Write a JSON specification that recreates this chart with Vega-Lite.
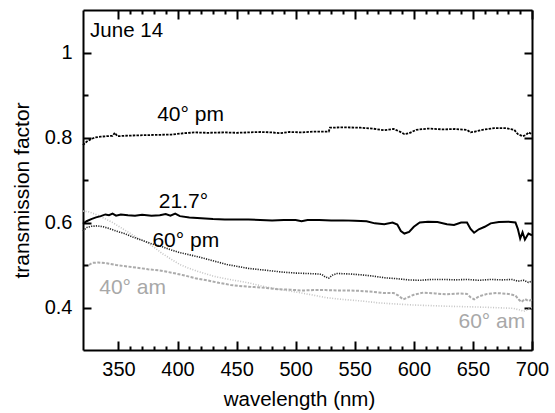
{
  "$schema": "https://vega.github.io/schema/vega-lite/v6.json",
  "width": 449,
  "height": 340,
  "autosize": {"type": "none"},
  "padding": {"left": 83, "top": 10, "right": 23, "bottom": 63},
  "config": {"view": {"stroke": null}, "axis": {"grid": false}},
  "datasets": {
    "spectra": [
      {"s": "60am", "w": 320, "t": 0.627}, {"s": "60am", "w": 325, "t": 0.625}, {"s": "60am", "w": 330, "t": 0.620}, {"s": "60am", "w": 335, "t": 0.614}, {"s": "60am", "w": 340, "t": 0.607}, {"s": "60am", "w": 345, "t": 0.600}, {"s": "60am", "w": 352, "t": 0.588}, {"s": "60am", "w": 359, "t": 0.576}, {"s": "60am", "w": 366, "t": 0.564}, {"s": "60am", "w": 374, "t": 0.553}, {"s": "60am", "w": 381, "t": 0.540}, {"s": "60am", "w": 387, "t": 0.527}, {"s": "60am", "w": 395, "t": 0.513}, {"s": "60am", "w": 402, "t": 0.501}, {"s": "60am", "w": 409, "t": 0.493}, {"s": "60am", "w": 416, "t": 0.486}, {"s": "60am", "w": 423, "t": 0.480}, {"s": "60am", "w": 430, "t": 0.474}, {"s": "60am", "w": 440, "t": 0.468}, {"s": "60am", "w": 450, "t": 0.463}, {"s": "60am", "w": 460, "t": 0.458}, {"s": "60am", "w": 472, "t": 0.450}, {"s": "60am", "w": 486, "t": 0.443}, {"s": "60am", "w": 501, "t": 0.436}, {"s": "60am", "w": 513, "t": 0.430}, {"s": "60am", "w": 526, "t": 0.423}, {"s": "60am", "w": 540, "t": 0.419}, {"s": "60am", "w": 557, "t": 0.415}, {"s": "60am", "w": 570, "t": 0.411}, {"s": "60am", "w": 580, "t": 0.409}, {"s": "60am", "w": 599, "t": 0.406}, {"s": "60am", "w": 628, "t": 0.403}, {"s": "60am", "w": 656, "t": 0.401}, {"s": "60am", "w": 675, "t": 0.399}, {"s": "60am", "w": 684, "t": 0.398}, {"s": "60am", "w": 690, "t": 0.394}, {"s": "60am", "w": 693, "t": 0.391}, {"s": "60am", "w": 697, "t": 0.396}, {"s": "60am", "w": 700, "t": 0.400},

      {"s": "40am", "w": 325, "t": 0.500}, {"s": "40am", "w": 328, "t": 0.505}, {"s": "40am", "w": 333, "t": 0.506}, {"s": "40am", "w": 340, "t": 0.504}, {"s": "40am", "w": 348, "t": 0.500}, {"s": "40am", "w": 356, "t": 0.497}, {"s": "40am", "w": 365, "t": 0.494}, {"s": "40am", "w": 375, "t": 0.490}, {"s": "40am", "w": 385, "t": 0.487}, {"s": "40am", "w": 395, "t": 0.482}, {"s": "40am", "w": 405, "t": 0.476}, {"s": "40am", "w": 415, "t": 0.469}, {"s": "40am", "w": 425, "t": 0.464}, {"s": "40am", "w": 435, "t": 0.458}, {"s": "40am", "w": 445, "t": 0.453}, {"s": "40am", "w": 455, "t": 0.450}, {"s": "40am", "w": 465, "t": 0.448}, {"s": "40am", "w": 475, "t": 0.446}, {"s": "40am", "w": 485, "t": 0.443}, {"s": "40am", "w": 495, "t": 0.442}, {"s": "40am", "w": 505, "t": 0.440}, {"s": "40am", "w": 515, "t": 0.441}, {"s": "40am", "w": 525, "t": 0.441}, {"s": "40am", "w": 535, "t": 0.440}, {"s": "40am", "w": 545, "t": 0.440}, {"s": "40am", "w": 555, "t": 0.439}, {"s": "40am", "w": 565, "t": 0.437}, {"s": "40am", "w": 575, "t": 0.434}, {"s": "40am", "w": 583, "t": 0.434}, {"s": "40am", "w": 587, "t": 0.428}, {"s": "40am", "w": 591, "t": 0.419}, {"s": "40am", "w": 595, "t": 0.424}, {"s": "40am", "w": 600, "t": 0.430}, {"s": "40am", "w": 608, "t": 0.435}, {"s": "40am", "w": 618, "t": 0.433}, {"s": "40am", "w": 628, "t": 0.431}, {"s": "40am", "w": 638, "t": 0.433}, {"s": "40am", "w": 645, "t": 0.432}, {"s": "40am", "w": 648, "t": 0.424}, {"s": "40am", "w": 651, "t": 0.419}, {"s": "40am", "w": 655, "t": 0.426}, {"s": "40am", "w": 662, "t": 0.432}, {"s": "40am", "w": 670, "t": 0.434}, {"s": "40am", "w": 680, "t": 0.432}, {"s": "40am", "w": 686, "t": 0.428}, {"s": "40am", "w": 689, "t": 0.418}, {"s": "40am", "w": 691, "t": 0.413}, {"s": "40am", "w": 694, "t": 0.420}, {"s": "40am", "w": 697, "t": 0.415}, {"s": "40am", "w": 700, "t": 0.419},

      {"s": "60pm", "w": 320, "t": 0.580}, {"s": "60pm", "w": 323, "t": 0.588}, {"s": "60pm", "w": 327, "t": 0.591}, {"s": "60pm", "w": 332, "t": 0.592}, {"s": "60pm", "w": 337, "t": 0.590}, {"s": "60pm", "w": 342, "t": 0.586}, {"s": "60pm", "w": 348, "t": 0.580}, {"s": "60pm", "w": 355, "t": 0.574}, {"s": "60pm", "w": 362, "t": 0.566}, {"s": "60pm", "w": 370, "t": 0.558}, {"s": "60pm", "w": 378, "t": 0.550}, {"s": "60pm", "w": 386, "t": 0.544}, {"s": "60pm", "w": 394, "t": 0.536}, {"s": "60pm", "w": 402, "t": 0.529}, {"s": "60pm", "w": 410, "t": 0.524}, {"s": "60pm", "w": 418, "t": 0.519}, {"s": "60pm", "w": 426, "t": 0.513}, {"s": "60pm", "w": 434, "t": 0.507}, {"s": "60pm", "w": 442, "t": 0.501}, {"s": "60pm", "w": 450, "t": 0.497}, {"s": "60pm", "w": 460, "t": 0.492}, {"s": "60pm", "w": 470, "t": 0.489}, {"s": "60pm", "w": 480, "t": 0.486}, {"s": "60pm", "w": 490, "t": 0.483}, {"s": "60pm", "w": 500, "t": 0.481}, {"s": "60pm", "w": 510, "t": 0.480}, {"s": "60pm", "w": 518, "t": 0.479}, {"s": "60pm", "w": 522, "t": 0.478}, {"s": "60pm", "w": 525, "t": 0.472}, {"s": "60pm", "w": 528, "t": 0.469}, {"s": "60pm", "w": 531, "t": 0.476}, {"s": "60pm", "w": 535, "t": 0.480}, {"s": "60pm", "w": 545, "t": 0.479}, {"s": "60pm", "w": 555, "t": 0.477}, {"s": "60pm", "w": 565, "t": 0.474}, {"s": "60pm", "w": 575, "t": 0.470}, {"s": "60pm", "w": 585, "t": 0.468}, {"s": "60pm", "w": 595, "t": 0.465}, {"s": "60pm", "w": 605, "t": 0.464}, {"s": "60pm", "w": 615, "t": 0.466}, {"s": "60pm", "w": 625, "t": 0.466}, {"s": "60pm", "w": 635, "t": 0.465}, {"s": "60pm", "w": 645, "t": 0.466}, {"s": "60pm", "w": 655, "t": 0.464}, {"s": "60pm", "w": 665, "t": 0.466}, {"s": "60pm", "w": 675, "t": 0.465}, {"s": "60pm", "w": 683, "t": 0.466}, {"s": "60pm", "w": 688, "t": 0.462}, {"s": "60pm", "w": 693, "t": 0.464}, {"s": "60pm", "w": 697, "t": 0.459}, {"s": "60pm", "w": 700, "t": 0.462},

      {"s": "40pm", "w": 320, "t": 0.782}, {"s": "40pm", "w": 323, "t": 0.790}, {"s": "40pm", "w": 326, "t": 0.795}, {"s": "40pm", "w": 330, "t": 0.800}, {"s": "40pm", "w": 335, "t": 0.802}, {"s": "40pm", "w": 340, "t": 0.803}, {"s": "40pm", "w": 345, "t": 0.804}, {"s": "40pm", "w": 347, "t": 0.811}, {"s": "40pm", "w": 349, "t": 0.803}, {"s": "40pm", "w": 355, "t": 0.804}, {"s": "40pm", "w": 365, "t": 0.805}, {"s": "40pm", "w": 380, "t": 0.806}, {"s": "40pm", "w": 395, "t": 0.807}, {"s": "40pm", "w": 405, "t": 0.810}, {"s": "40pm", "w": 415, "t": 0.812}, {"s": "40pm", "w": 425, "t": 0.811}, {"s": "40pm", "w": 440, "t": 0.812}, {"s": "40pm", "w": 450, "t": 0.811}, {"s": "40pm", "w": 460, "t": 0.812}, {"s": "40pm", "w": 470, "t": 0.813}, {"s": "40pm", "w": 480, "t": 0.812}, {"s": "40pm", "w": 487, "t": 0.810}, {"s": "40pm", "w": 495, "t": 0.813}, {"s": "40pm", "w": 505, "t": 0.812}, {"s": "40pm", "w": 515, "t": 0.814}, {"s": "40pm", "w": 528, "t": 0.814}, {"s": "40pm", "w": 529, "t": 0.823}, {"s": "40pm", "w": 540, "t": 0.824}, {"s": "40pm", "w": 555, "t": 0.823}, {"s": "40pm", "w": 565, "t": 0.821}, {"s": "40pm", "w": 575, "t": 0.817}, {"s": "40pm", "w": 583, "t": 0.820}, {"s": "40pm", "w": 588, "t": 0.814}, {"s": "40pm", "w": 592, "t": 0.808}, {"s": "40pm", "w": 596, "t": 0.810}, {"s": "40pm", "w": 602, "t": 0.818}, {"s": "40pm", "w": 612, "t": 0.821}, {"s": "40pm", "w": 625, "t": 0.819}, {"s": "40pm", "w": 635, "t": 0.820}, {"s": "40pm", "w": 645, "t": 0.818}, {"s": "40pm", "w": 648, "t": 0.812}, {"s": "40pm", "w": 652, "t": 0.814}, {"s": "40pm", "w": 658, "t": 0.818}, {"s": "40pm", "w": 668, "t": 0.822}, {"s": "40pm", "w": 678, "t": 0.822}, {"s": "40pm", "w": 685, "t": 0.818}, {"s": "40pm", "w": 688, "t": 0.808}, {"s": "40pm", "w": 692, "t": 0.803}, {"s": "40pm", "w": 695, "t": 0.806}, {"s": "40pm", "w": 697, "t": 0.812}, {"s": "40pm", "w": 700, "t": 0.808},

      {"s": "21.7", "w": 320, "t": 0.597}, {"s": "21.7", "w": 323, "t": 0.603}, {"s": "21.7", "w": 327, "t": 0.608}, {"s": "21.7", "w": 331, "t": 0.612}, {"s": "21.7", "w": 335, "t": 0.615}, {"s": "21.7", "w": 339, "t": 0.619}, {"s": "21.7", "w": 342, "t": 0.617}, {"s": "21.7", "w": 345, "t": 0.621}, {"s": "21.7", "w": 348, "t": 0.616}, {"s": "21.7", "w": 352, "t": 0.619}, {"s": "21.7", "w": 358, "t": 0.617}, {"s": "21.7", "w": 364, "t": 0.616}, {"s": "21.7", "w": 370, "t": 0.618}, {"s": "21.7", "w": 378, "t": 0.616}, {"s": "21.7", "w": 385, "t": 0.617}, {"s": "21.7", "w": 390, "t": 0.620}, {"s": "21.7", "w": 394, "t": 0.616}, {"s": "21.7", "w": 398, "t": 0.621}, {"s": "21.7", "w": 402, "t": 0.615}, {"s": "21.7", "w": 410, "t": 0.612}, {"s": "21.7", "w": 420, "t": 0.610}, {"s": "21.7", "w": 430, "t": 0.608}, {"s": "21.7", "w": 440, "t": 0.607}, {"s": "21.7", "w": 450, "t": 0.607}, {"s": "21.7", "w": 460, "t": 0.607}, {"s": "21.7", "w": 470, "t": 0.606}, {"s": "21.7", "w": 480, "t": 0.605}, {"s": "21.7", "w": 490, "t": 0.606}, {"s": "21.7", "w": 500, "t": 0.606}, {"s": "21.7", "w": 505, "t": 0.603}, {"s": "21.7", "w": 510, "t": 0.606}, {"s": "21.7", "w": 520, "t": 0.606}, {"s": "21.7", "w": 530, "t": 0.605}, {"s": "21.7", "w": 540, "t": 0.605}, {"s": "21.7", "w": 550, "t": 0.604}, {"s": "21.7", "w": 560, "t": 0.603}, {"s": "21.7", "w": 567, "t": 0.598}, {"s": "21.7", "w": 575, "t": 0.596}, {"s": "21.7", "w": 582, "t": 0.600}, {"s": "21.7", "w": 586, "t": 0.595}, {"s": "21.7", "w": 589, "t": 0.580}, {"s": "21.7", "w": 592, "t": 0.574}, {"s": "21.7", "w": 596, "t": 0.578}, {"s": "21.7", "w": 600, "t": 0.590}, {"s": "21.7", "w": 605, "t": 0.600}, {"s": "21.7", "w": 612, "t": 0.602}, {"s": "21.7", "w": 620, "t": 0.601}, {"s": "21.7", "w": 628, "t": 0.596}, {"s": "21.7", "w": 634, "t": 0.594}, {"s": "21.7", "w": 640, "t": 0.600}, {"s": "21.7", "w": 645, "t": 0.600}, {"s": "21.7", "w": 648, "t": 0.585}, {"s": "21.7", "w": 651, "t": 0.576}, {"s": "21.7", "w": 655, "t": 0.584}, {"s": "21.7", "w": 660, "t": 0.590}, {"s": "21.7", "w": 665, "t": 0.598}, {"s": "21.7", "w": 672, "t": 0.601}, {"s": "21.7", "w": 680, "t": 0.602}, {"s": "21.7", "w": 686, "t": 0.600}, {"s": "21.7", "w": 688, "t": 0.585}, {"s": "21.7", "w": 690, "t": 0.562}, {"s": "21.7", "w": 692, "t": 0.577}, {"s": "21.7", "w": 694, "t": 0.560}, {"s": "21.7", "w": 697, "t": 0.574}, {"s": "21.7", "w": 700, "t": 0.570}
    ],
    "labels": [
      {"label": "40° pm", "w": 411, "t": 0.854, "c": "black"},
      {"label": "21.7°", "w": 405, "t": 0.649, "c": "black"},
      {"label": "60° pm", "w": 407, "t": 0.556, "c": "black"},
      {"label": "40° am", "w": 362, "t": 0.445, "c": "#a8a8a8"},
      {"label": "60° am", "w": 666, "t": 0.365, "c": "#a8a8a8"}
    ],
    "title": [
      {"label": "June 14", "w": 326, "t": 1.05}
    ]
  },
  "layer": [
    {
      "data": {"name": "spectra"},
      "transform": [{"filter": "datum.s === '60am'"}],
      "mark": {"type": "line", "color": "#c4c4c4", "strokeWidth": 1.6, "strokeDash": [1, 1.6]},
      "encoding": {
        "x": {"field": "w", "type": "quantitative", "scale": {"domain": [320, 700], "nice": false, "zero": false},
          "axis": {"orient": "bottom", "values": [350, 400, 450, 500, 550, 600, 650, 700],
            "domainColor": "black", "domainWidth": 2,
            "tickSize": -9, "tickColor": "black", "tickWidth": 2,
            "labelFont": "Liberation Sans", "labelFontSize": 20, "labelColor": "black", "labelFlush": false,
            "labelPadding": 18,
            "title": "wavelength (nm)", "titleFont": "Liberation Sans", "titleFontSize": 20.5, "titleFontWeight": "normal", "titleColor": "black",
            "titleBaseline": "alphabetic", "titleY": 55, "titleX": 216, "titleAnchor": null}},
        "y": {"field": "t", "type": "quantitative", "scale": {"domain": [0.3, 1.1], "nice": false, "zero": false},
          "axis": {"orient": "left", "values": [0.4, 0.6, 0.8, 1.0],
            "domainColor": "black", "domainWidth": 2,
            "tickSize": -8, "tickColor": "black", "tickWidth": 2,
            "labelFont": "Liberation Sans", "labelFontSize": 20, "labelColor": "black",
            "labelExpr": "round(datum.value*10) === 10 ? '1' : format(datum.value, '.1f')",
            "labelPadding": 19,
            "title": "transmission factor", "titleFont": "Liberation Sans", "titleFontSize": 21, "titleFontWeight": "normal", "titleColor": "black",
            "titleAngle": -90, "titleBaseline": "middle", "titleX": -61, "titleY": 180, "titleAnchor": null}}
      }
    },
    {
      "data": {"name": "spectra"},
      "transform": [{"filter": "datum.s === '40am'"}],
      "mark": {"type": "line", "color": "#ababab", "strokeWidth": 2, "strokeDash": [3, 1.5]},
      "encoding": {
        "x": {"field": "w", "type": "quantitative",
          "axis": {"orient": "top", "values": [350, 400, 450, 500, 550, 600, 650, 700], "domainColor": "black", "domainWidth": 2, "tickSize": -9, "tickColor": "black", "tickWidth": 2, "labels": false, "title": null}},
        "y": {"field": "t", "type": "quantitative",
          "axis": {"orient": "right", "values": [0.4, 0.6, 0.8, 1.0], "domainColor": "black", "domainWidth": 2, "tickSize": -8, "tickColor": "black", "tickWidth": 2, "labels": false, "title": null}}
      }
    },
    {
      "data": {"name": "spectra"},
      "transform": [{"filter": "datum.s === '60pm'"}],
      "mark": {"type": "line", "color": "#222222", "strokeWidth": 1.6, "strokeDash": [1.2, 1.2]},
      "encoding": {
        "x": {"field": "w", "type": "quantitative",
          "axis": {"orient": "bottom", "values": [360,370,380,390,410,420,430,440,460,470,480,490,510,520,530,540,560,570,580,590,610,620,630,640,660,670,680,690], "tickSize": -4, "tickColor": "black", "tickWidth": 2, "domain": false, "labels": false, "title": null}},
        "y": {"field": "t", "type": "quantitative",
          "axis": {"orient": "left", "values": [0.5, 0.7, 0.9], "tickSize": -5, "tickColor": "black", "tickWidth": 2, "domain": false, "labels": false, "title": null}}
      }
    },
    {
      "data": {"name": "spectra"},
      "transform": [{"filter": "datum.s === '40pm'"}],
      "mark": {"type": "line", "color": "black", "strokeWidth": 1.8, "strokeDash": [2.5, 1.2]},
      "encoding": {
        "x": {"field": "w", "type": "quantitative",
          "axis": {"orient": "top", "values": [360,370,380,390,410,420,430,440,460,470,480,490,510,520,530,540,560,570,580,590,610,620,630,640,660,670,680,690], "tickSize": -4, "tickColor": "black", "tickWidth": 2, "domain": false, "labels": false, "title": null}},
        "y": {"field": "t", "type": "quantitative",
          "axis": {"orient": "right", "values": [0.5, 0.7, 0.9], "tickSize": -5, "tickColor": "black", "tickWidth": 2, "domain": false, "labels": false, "title": null}}
      }
    },
    {
      "data": {"name": "spectra"},
      "transform": [{"filter": "datum.s === '21.7'"}],
      "mark": {"type": "line", "color": "black", "strokeWidth": 2},
      "encoding": {
        "x": {"field": "w", "type": "quantitative", "axis": null},
        "y": {"field": "t", "type": "quantitative", "axis": null}
      }
    },
    {
      "data": {"name": "title"},
      "mark": {"type": "text", "fontSize": 20.5, "font": "Liberation Sans", "baseline": "middle", "align": "left", "color": "black"},
      "encoding": {
        "x": {"field": "w", "type": "quantitative", "axis": null},
        "y": {"field": "t", "type": "quantitative", "axis": null},
        "text": {"field": "label", "type": "nominal"}
      }
    },
    {
      "data": {"name": "labels"},
      "mark": {"type": "text", "fontSize": 21, "font": "Liberation Sans", "baseline": "middle", "align": "center"},
      "encoding": {
        "x": {"field": "w", "type": "quantitative", "axis": null},
        "y": {"field": "t", "type": "quantitative", "axis": null},
        "text": {"field": "label", "type": "nominal"},
        "color": {"field": "c", "type": "nominal", "scale": null}
      }
    }
  ],
  "resolve": {"axis": {"x": "independent", "y": "independent"}}
}
